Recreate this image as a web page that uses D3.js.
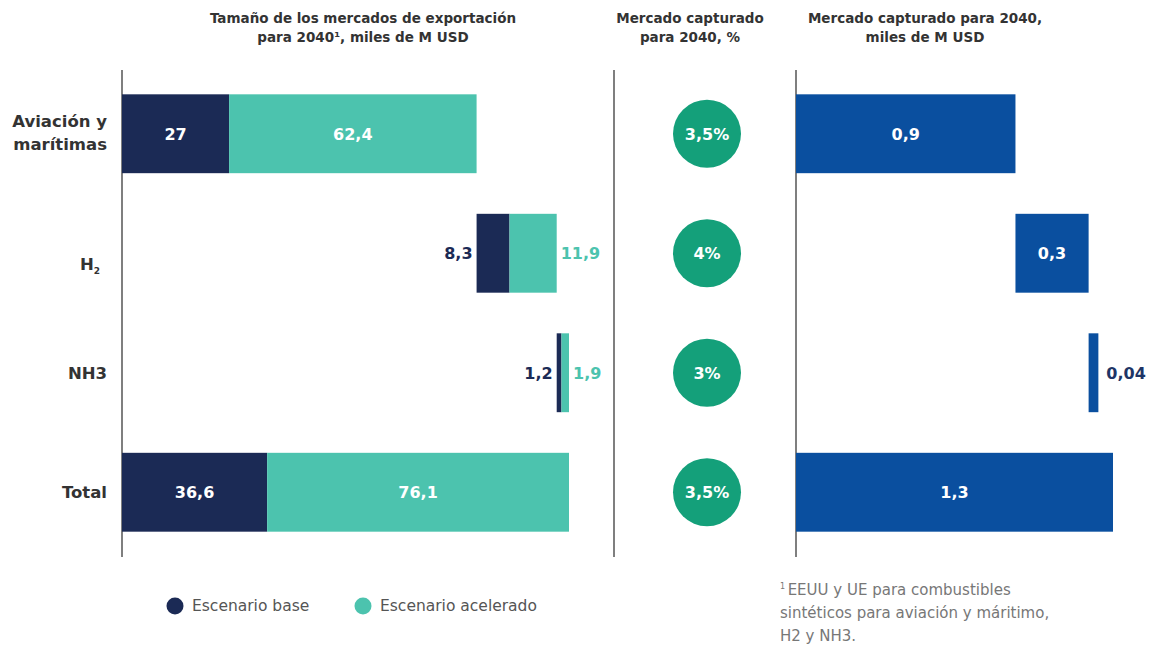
<!DOCTYPE html>
<html><head><meta charset="utf-8">
<script src="https://cdn.jsdelivr.net/npm/d3@7"></script>
<style>
html,body{margin:0;padding:0;background:#fff;}
svg{display:block;font-family:"DejaVu Sans","Noto Sans",sans-serif;}
</style></head>
<body><svg id="c" width="1174" height="648"></svg>
<script>
// ---- data ----
const categories = ["Aviación y marítimas", "H2", "NH3", "Total"];
const baseValues = [27, 8.3, 1.2, 36.6];
const accelValues = [62.4, 11.9, 1.9, 76.1];
const baseLabels = ["27", "8,3", "1,2", "36,6"];
const accelLabels = ["62,4", "11,9", "1,9", "76,1"];
const sharePct = ["3,5%", "4%", "3%", "3,5%"];
const capturedValues = [0.9, 0.3, 0.04, 1.3];
const capturedLabels = ["0,9", "0,3", "0,04", "1,3"];
const legendItems = ["Escenario base", "Escenario acelerado"];

const colBase = "#1b2a55", colAccel = "#4cc3ae", colCircle = "#14a07a", colCap = "#0a4f9f";

const svg = d3.select("#c");

const y = d3.scaleBand().domain(categories).range([74, 552]).paddingInner(0.34).paddingOuter(0.17);
const xL = d3.scaleLinear().domain([0, 112.7]).range([122, 569]);
const xR = d3.scaleLinear().domain([0, 1.3]).range([796, 1113]);

// waterfall starts
const leftRows = [];
let cum = 0;
categories.forEach((c, i) => {
  const isTotal = i === categories.length - 1;
  const s = isTotal ? 0 : cum;
  leftRows.push({c, i, s, b: baseValues[i], a: accelValues[i]});
  if (!isTotal) cum += baseValues[i] + accelValues[i];
});
const rightRows = [];
let cumR = 0;
categories.forEach((c, i) => {
  const isTotal = i === categories.length - 1;
  const s = isTotal ? 0 : cumR;
  rightRows.push({c, i, s, v: capturedValues[i]});
  if (!isTotal) cumR += capturedValues[i];
});

// titles
const titles = [
  {x: 363, lines: ["Tamaño de los mercados de exportación", "para 2040¹, miles de M USD"]},
  {x: 690, lines: ["Mercado capturado", "para 2040, %"]},
  {x: 925, lines: ["Mercado capturado para 2040,", "miles de M USD"]}
];
titles.forEach(t => {
  t.lines.forEach((l, k) => {
    svg.append("text").attr("x", t.x).attr("y", 23 + k * 19).attr("text-anchor", "middle")
      .attr("font-size", 13.5).attr("font-weight", 700).attr("fill", "#333").text(l);
  });
});

// axis lines
[122, 614, 796].forEach(x => {
  svg.append("line").attr("x1", x).attr("x2", x).attr("y1", 70).attr("y2", 557)
    .attr("stroke", "#555").attr("stroke-width", 1.5);
});

// left bars
const bh = y.bandwidth();
leftRows.forEach(r => {
  const y0 = y(r.c);
  const x0 = xL(r.s), x1 = xL(r.s + r.b), x2 = xL(r.s + r.b + r.a);
  svg.append("rect").attr("x", x0).attr("y", y0).attr("width", x1 - x0).attr("height", bh).attr("fill", colBase);
  svg.append("rect").attr("x", x1).attr("y", y0).attr("width", x2 - x1).attr("height", bh).attr("fill", colAccel);
  const cy = y0 + bh / 2 + 6;
  if (x1 - x0 > 40) {
    svg.append("text").attr("x", (x0 + x1) / 2).attr("y", cy).attr("text-anchor", "middle")
      .attr("font-size", 16).attr("font-weight", 700).attr("fill", "#fff").text(baseLabels[r.i]);
    svg.append("text").attr("x", (x1 + x2) / 2).attr("y", cy).attr("text-anchor", "middle")
      .attr("font-size", 16).attr("font-weight", 700).attr("fill", "#fff").text(accelLabels[r.i]);
  } else {
    svg.append("text").attr("x", x0 - 4).attr("y", cy).attr("text-anchor", "end")
      .attr("font-size", 16).attr("font-weight", 700).attr("fill", colBase).text(baseLabels[r.i]);
    svg.append("text").attr("x", x2 + 4).attr("y", cy).attr("text-anchor", "start")
      .attr("font-size", 16).attr("font-weight", 700).attr("fill", colAccel).text(accelLabels[r.i]);
  }
});

// category labels
const catG = svg.append("g");
categories.forEach((c, i) => {
  const cy = y(c) + bh / 2;
  if (i === 0) {
    ["Aviación y", "marítimas"].forEach((l, k) => {
      catG.append("text").attr("x", 107).attr("y", cy - 7 + k * 23).attr("text-anchor", "end")
        .attr("font-size", 16.5).attr("font-weight", 700).attr("fill", "#333").text(l);
    });
  } else if (c === "H2") {
    const t = catG.append("text").attr("x", 100).attr("y", cy + 17).attr("text-anchor", "end")
      .attr("font-size", 16.5).attr("font-weight", 700).attr("fill", "#333");
    t.append("tspan").text("H");
    t.append("tspan").attr("font-size", 9).attr("dy", 4).text("2");
  } else {
    catG.append("text").attr("x", 107).attr("y", cy + 6).attr("text-anchor", "end")
      .attr("font-size", 16.5).attr("font-weight", 700).attr("fill", "#333").text(c);
  }
});

// circles
categories.forEach((c, i) => {
  const cy = y(c) + bh / 2;
  svg.append("circle").attr("cx", 707).attr("cy", cy).attr("r", 34).attr("fill", colCircle);
  svg.append("text").attr("x", 707).attr("y", cy + 6).attr("text-anchor", "middle")
    .attr("font-size", 16).attr("font-weight", 700).attr("fill", "#fff").text(sharePct[i]);
});

// right bars
rightRows.forEach(r => {
  const y0 = y(r.c);
  const x0 = xR(r.s), x1 = xR(r.s + r.v);
  svg.append("rect").attr("x", x0).attr("y", y0).attr("width", x1 - x0).attr("height", bh).attr("fill", colCap);
  const cy = y0 + bh / 2 + 6;
  if (x1 - x0 > 40) {
    svg.append("text").attr("x", (x0 + x1) / 2).attr("y", cy).attr("text-anchor", "middle")
      .attr("font-size", 16).attr("font-weight", 700).attr("fill", "#fff").text(capturedLabels[r.i]);
  } else {
    svg.append("text").attr("x", x1 + 8).attr("y", cy).attr("text-anchor", "start")
      .attr("font-size", 16).attr("font-weight", 700).attr("fill", "#1e3566").text(capturedLabels[r.i]);
  }
});

// legend
const legX = [175, 363], legCol = [colBase, colAccel];
legendItems.forEach((l, k) => {
  svg.append("circle").attr("cx", legX[k]).attr("cy", 606).attr("r", 8.5).attr("fill", legCol[k]);
  svg.append("text").attr("x", legX[k] + 17).attr("y", 611).attr("font-size", 15.5).attr("fill", "#555").text(l);
});

// footnote
const foot = ["EEUU y UE para combustibles", "sintéticos para aviación y máritimo,", "H2 y NH3."];
foot.forEach((l, k) => {
  const t = svg.append("text").attr("x", 780).attr("y", 595 + k * 23).attr("font-size", 15).attr("fill", "#777");
  if (k === 0) { t.append("tspan").attr("font-size", 8).attr("dy", -6).text("1 "); t.append("tspan").attr("dy", 6).text(l); }
  else t.text(l);
});
</script></body></html>
